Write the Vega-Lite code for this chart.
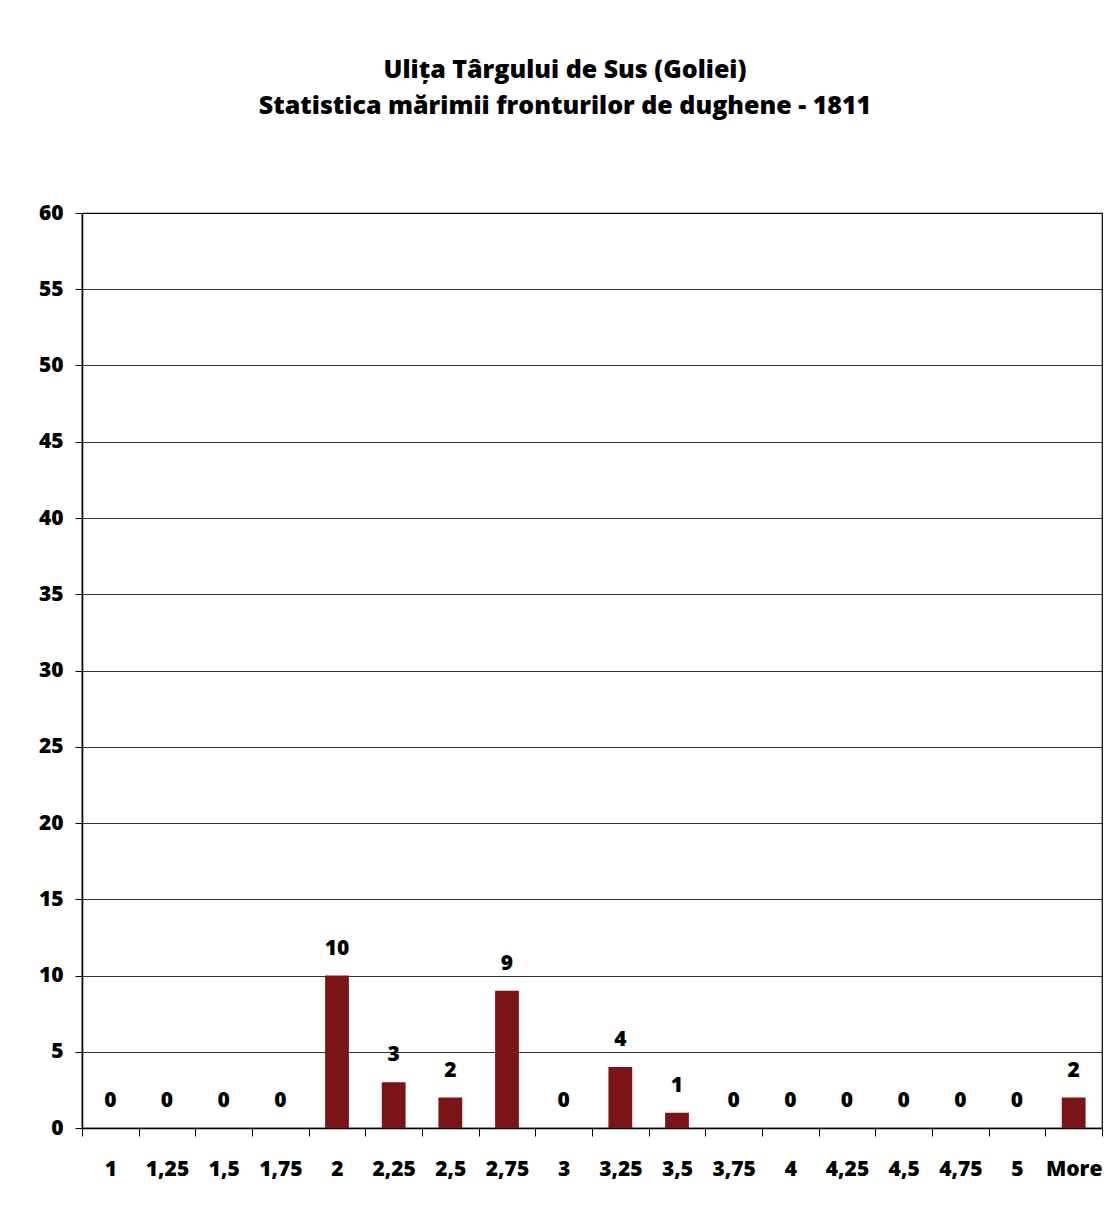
{
  "$schema": "https://vega.github.io/schema/vega-lite/v6.json",
  "width": 1020,
  "height": 915,
  "autosize": {"type": "none"},
  "padding": {"left": 82, "top": 213, "right": 8, "bottom": 79},
  "background": "white",
  "title": {
    "text": ["Ulița Târgului de Sus (Goliei)", "Statistica mărimii fronturilor de dughene - 1811"],
    "font": "Open Sans",
    "fontSize": 25,
    "fontWeight": 800,
    "color": "#000000",
    "lineHeight": 36,
    "anchor": "middle",
    "dx": -27,
    "offset": 83
  },
  "data": {
    "values": [
      {"bin": "1", "count": 0},
      {"bin": "1,25", "count": 0},
      {"bin": "1,5", "count": 0},
      {"bin": "1,75", "count": 0},
      {"bin": "2", "count": 10},
      {"bin": "2,25", "count": 3},
      {"bin": "2,5", "count": 2},
      {"bin": "2,75", "count": 9},
      {"bin": "3", "count": 0},
      {"bin": "3,25", "count": 4},
      {"bin": "3,5", "count": 1},
      {"bin": "3,75", "count": 0},
      {"bin": "4", "count": 0},
      {"bin": "4,25", "count": 0},
      {"bin": "4,5", "count": 0},
      {"bin": "4,75", "count": 0},
      {"bin": "5", "count": 0},
      {"bin": "More", "count": 2}
    ]
  },
  "encoding": {
    "x": {
      "field": "bin",
      "type": "nominal",
      "sort": null,
      "scale": {"paddingInner": 0, "paddingOuter": 0},
      "axis": {
        "title": null,
        "labelAngle": 0,
        "labelFont": "Open Sans",
        "labelFontSize": 21,
        "labelFontWeight": 800,
        "labelColor": "#000000",
        "labelPadding": 22,
        "tickBand": "extent",
        "tickSize": 8,
        "tickColor": "#000000",
        "domainColor": "#000000",
        "domainWidth": 1.5,
        "grid": false
      }
    },
    "y": {
      "field": "count",
      "type": "quantitative",
      "scale": {"domain": [0, 60]},
      "axis": {
        "title": null,
        "values": [0, 5, 10, 15, 20, 25, 30, 35, 40, 45, 50, 55, 60],
        "labelFont": "Open Sans",
        "labelFontSize": 21,
        "labelFontWeight": 800,
        "labelColor": "#000000",
        "labelPadding": 12,
        "tickSize": 7,
        "tickColor": "#000000",
        "domainColor": "#000000",
        "domainWidth": 1.5,
        "grid": true,
        "gridColor": "#000000",
        "gridWidth": 0.8
      }
    }
  },
  "layer": [
    {"mark": {"type": "bar", "color": "#7b1416", "width": {"band": 0.42}}},
    {
      "mark": {
        "type": "text",
        "font": "Open Sans",
        "fontSize": 21,
        "fontWeight": 800,
        "color": "#000000",
        "baseline": "middle",
        "dy": -27
      },
      "encoding": {"text": {"field": "count", "type": "quantitative"}}
    }
  ],
  "config": {
    "view": {"stroke": "#000000", "strokeWidth": 1.2}
  }
}
